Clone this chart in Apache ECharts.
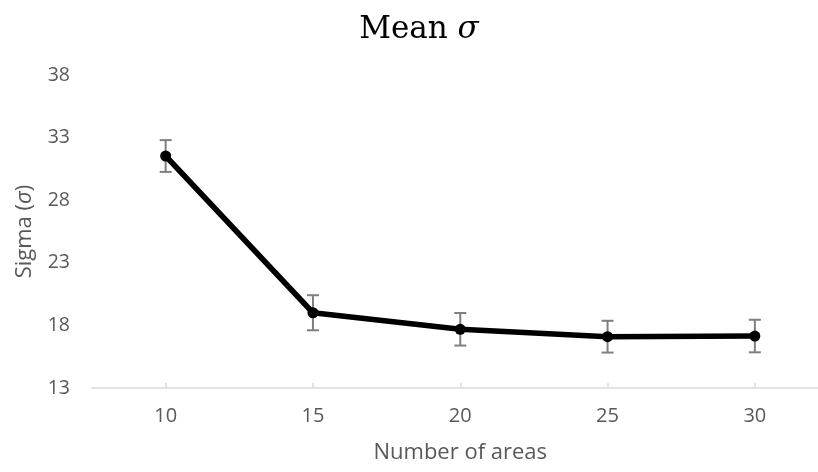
<!DOCTYPE html>
<html>
<head>
<meta charset="utf-8">
<script src="https://cdn.jsdelivr.net/npm/echarts@6/dist/echarts.min.js"></script>
<style>
  html, body { margin: 0; padding: 0; background: #fff; }
  #chart { width: 818px; height: 472px; }
</style>
</head>
<body>
<div id="chart"></div>
<script>
// Number of areas on the x axis
const areas = [10, 15, 20, 25, 30];
// Mean sigma for each number of areas
const meanSigma = [31.53, 19.01, 17.69, 17.10, 17.15];
// Half-width of the error bar for each point
const sigmaError = [1.27, 1.40, 1.30, 1.27, 1.30];
// Tick labels
const yTicks = [13, 18, 23, 28, 33, 38];
const xTicks = [10, 15, 20, 25, 30];

const labelFont = '"Open Sans", "Liberation Sans", sans-serif';
const serifFont = '"DejaVu Serif", "Liberation Serif", serif';

const chart = echarts.init(document.getElementById('chart'));

const lineData = areas.map((a, i) => [a, meanSigma[i]]);
const errData = areas.map((a, i) => [a, meanSigma[i] - sigmaError[i], meanSigma[i] + sigmaError[i]]);

chart.setOption({
  animation: false,
  backgroundColor: '#ffffff',
  title: {
    text: 'Mean {s|σ}',
    left: 414,
    top: 9,
    textAlign: 'center',
    textStyle: {
      fontFamily: serifFont,
      fontSize: 31,
      fontWeight: 'normal',
      color: '#000',
      rich: {
        s: { fontFamily: serifFont, fontSize: 31, fontStyle: 'italic', color: '#000' }
      }
    }
  },
  grid: { left: 92, top: 75, width: 736.5, height: 313, outerBoundsMode: 'none' },
  xAxis: {
    type: 'value',
    min: 7.5,
    max: 32.5,
    name: 'Number of areas',
    nameLocation: 'middle',
    nameGap: 54,
    nameTextStyle: { fontFamily: labelFont, fontSize: 22, color: '#595959' },
    axisLine: { show: true, lineStyle: { color: '#d9d9d9', width: 1.5 } },
    axisTick: { show: true, customValues: xTicks, length: 5, inside: true, lineStyle: { color: '#d9d9d9', width: 1.5 } },
    axisLabel: { customValues: xTicks, margin: 18, fontFamily: labelFont, fontSize: 20, color: '#595959' },
    splitLine: { show: false }
  },
  yAxis: {
    type: 'value',
    min: 13,
    max: 38,
    name: 'Sigma ({s|σ})',
    nameLocation: 'middle',
    nameGap: 56,
    nameTextStyle: {
      fontFamily: labelFont, fontSize: 22, color: '#595959',
      rich: { s: { fontFamily: labelFont, fontSize: 22, fontStyle: 'italic', color: '#595959' } }
    },
    axisLine: { show: false },
    axisTick: { show: false },
    axisLabel: { customValues: yTicks, margin: 22, fontFamily: labelFont, fontSize: 19.5, color: '#595959' },
    splitLine: { show: false }
  },
  series: [
    {
      type: 'custom',
      z: 1,
      data: errData,
      renderItem: function (params, api) {
        const x = api.value(0);
        const lo = api.coord([x, api.value(1)]);
        const hi = api.coord([x, api.value(2)]);
        const half = 6;
        const style = { stroke: '#7f7f7f', lineWidth: 2, fill: null };
        return {
          type: 'group',
          children: [
            { type: 'line', shape: { x1: hi[0], y1: hi[1], x2: lo[0], y2: lo[1] }, style: style },
            { type: 'line', shape: { x1: hi[0] - half, y1: hi[1], x2: hi[0] + half, y2: hi[1] }, style: style },
            { type: 'line', shape: { x1: lo[0] - half, y1: lo[1], x2: lo[0] + half, y2: lo[1] }, style: style }
          ]
        };
      }
    },
    {
      type: 'line',
      z: 3,
      data: lineData,
      symbol: 'circle',
      symbolSize: 11,
      lineStyle: { color: '#000', width: 5.5 },
      itemStyle: { color: '#000' }
    }
  ]
});
</script>
</body>
</html>
